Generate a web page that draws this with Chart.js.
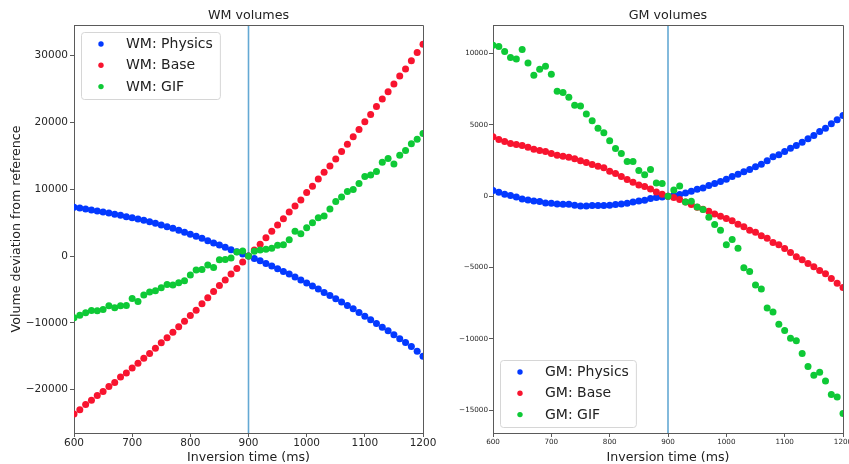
<!DOCTYPE html>
<html>
<head>
<meta charset="utf-8">
<script src="https://cdn.jsdelivr.net/npm/chart.js@4.4.1/dist/chart.umd.min.js"></script>
<style>
  html, body { margin: 0; padding: 0; background: #fff; }
  #wrap { position: relative; width: 849px; height: 464px; overflow: hidden; }
  canvas { position: absolute; top: 0; }
</style>
</head>
<body>
<div id="wrap">
  <canvas id="wmChart" width="440" height="464" style="left:0px"></canvas>
  <canvas id="gmChart" width="409" height="464" style="left:440px"></canvas>
</div>
<script>
// inversion times (ms), one point every 10 ms
const inversionTimes = [600, 610, 620, 630, 640, 650, 660, 670, 680, 690,
  700, 710, 720, 730, 740, 750, 760, 770, 780, 790,
  800, 810, 820, 830, 840, 850, 860, 870, 880, 890,
  900, 910, 920, 930, 940, 950, 960, 970, 980, 990,
  1000, 1010, 1020, 1030, 1040, 1050, 1060, 1070, 1080, 1090,
  1100, 1110, 1120, 1130, 1140, 1150, 1160, 1170, 1180, 1190, 1200];
const referenceTime = 900;

// WM volume deviation from reference
const wmPhysics = [7300, 7200, 7050, 6900, 6750, 6600, 6450, 6250, 6100, 5900,
  5750, 5550, 5350, 5150, 4900, 4650, 4400, 4150, 3850, 3550,
  3250, 2950, 2650, 2300, 1950, 1650, 1300, 950, 650, 300,
  0, -350, -700, -1100, -1500, -1900, -2300, -2700, -3150, -3600,
  -4050, -4500, -4950, -5450, -5900, -6400, -6900, -7400, -7900, -8450,
  -9000, -9550, -10100, -10650, -11200, -11800, -12400, -12950, -13550, -14250, -15000];
const wmBase = [-23650, -23000, -22250, -21600, -20900, -20300, -19550, -18950, -18100, -17500,
  -16750, -16050, -15300, -14600, -13800, -13000, -12250, -11400, -10600, -9750,
  -8900, -8100, -7150, -6250, -5300, -4400, -3600, -2700, -1850, -900,
  0, 900, 1750, 2750, 3700, 4650, 5600, 6600, 7500, 8400,
  9500, 10450, 11550, 12550, 13500, 14550, 15650, 16750, 17850, 18950,
  20100, 21200, 22400, 23500, 24600, 25750, 26950, 28000, 29250, 30500, 31700];
const wmGif = [-9250, -8850, -8500, -8150, -8200, -8000, -7450, -7750, -7450, -7400,
  -6350, -6800, -5850, -5400, -5200, -4750, -4250, -4350, -4000, -3700,
  -2850, -2100, -2000, -1350, -1700, -550, -500, -300, 600, 750,
  0, 700, 900, 1000, 1150, 1600, 1700, 2450, 3700, 3350,
  4250, 5000, 5750, 6000, 7050, 8150, 8850, 9650, 9950, 10850,
  11900, 12150, 12650, 14050, 14600, 13800, 15100, 15800, 16800, 17500, 18350];

// GM volume deviation from reference
const gmPhysics = [400, 280, 140, 50, -50, -190, -260, -330, -370, -470,
  -490, -540, -560, -560, -630, -680, -680, -650, -650, -650,
  -630, -580, -540, -490, -400, -330, -280, -160, -90, -50,
  0, 70, 120, 230, 350, 490, 580, 750, 890, 1030,
  1190, 1380, 1540, 1710, 1870, 2060, 2240, 2480, 2760, 2900,
  3130, 3360, 3550, 3780, 4020, 4250, 4530, 4770, 5070, 5350, 5650];
const gmBase = [4160, 3970, 3830, 3690, 3620, 3550, 3430, 3290, 3200, 3130,
  2990, 2870, 2800, 2730, 2620, 2480, 2360, 2220, 2100, 1990,
  1750, 1590, 1380, 1170, 980, 790, 680, 510, 300, 140,
  0, -90, -230, -400, -580, -770, -910, -1050, -1240, -1400,
  -1570, -1730, -1960, -2150, -2380, -2520, -2780, -2940, -3250, -3410,
  -3670, -3950, -4250, -4460, -4720, -4950, -5210, -5440, -5770, -6100, -6400];
const gmGif = [10580, 10490, 10140, 9720, 9620, 10280, 9340, 8480, 8900, 9110,
  8550, 7360, 7260, 6940, 6380, 6330, 5770, 5280, 4770, 4440,
  3880, 3340, 2990, 2430, 2430, 1800, 1500, 1870, 930, 890,
  0, 440, 720, -400, -350, -750, -930, -1470, -1990, -2380,
  -3410, -3040, -3650, -5020, -5280, -6220, -6500, -7830, -8110, -8970,
  -9420, -9950, -10140, -11030, -11940, -12550, -12340, -12950, -13900, -14070, -15230];

// tick labels
const timeTicks = [600, 700, 800, 900, 1000, 1100, 1200];
const wmTicks = [-20000, -10000, 0, 10000, 20000, 30000];
const gmTicks = [-15000, -10000, -5000, 0, 5000, 10000];

const FONT = '"DejaVu Sans", "Liberation Sans", sans-serif';
const COLORS = { physics: '#0339ff', base: '#f8142f', gif: '#0ec936' };
Chart.defaults.font.family = FONT;

const fmt = v => (v < 0 ? '\u2212' + Math.abs(v) : String(v));
const pts = ys => inversionTimes.map((t, i) => ({ x: t, y: ys[i] }));

// vertical reference line + top/right spines + panel title
const panelDecor = {
  id: 'panelDecor',
  beforeDatasetsDraw(chart) {
    const { ctx, chartArea: a, scales: { x } } = chart;
    const px = x.getPixelForValue(referenceTime);
    ctx.save();
    ctx.strokeStyle = '#64a9d4';
    ctx.lineWidth = 1.6;
    ctx.beginPath();
    ctx.moveTo(px, a.top);
    ctx.lineTo(px, a.bottom);
    ctx.stroke();
    ctx.restore();
  },
  afterDraw(chart, args, opts) {
    const { ctx, chartArea: a } = chart;
    ctx.save();
    ctx.strokeStyle = '#5a5a5a';
    ctx.lineWidth = 1;
    ctx.beginPath();
    ctx.moveTo(Math.round(a.left) + 0.5, Math.round(a.top) + 0.5);
    ctx.lineTo(Math.round(a.right) + 0.5, Math.round(a.top) + 0.5);
    ctx.lineTo(Math.round(a.right) + 0.5, Math.round(a.bottom) + 0.5);
    ctx.stroke();
    ctx.fillStyle = '#222';
    ctx.font = '12.7px ' + FONT;
    ctx.textAlign = 'center';
    ctx.textBaseline = 'middle';
    ctx.fillText(opts.title, (a.left + a.right) / 2, 16);
    ctx.restore();
  }
};

// legend drawn inside the axes like matplotlib
const insideLegend = {
  id: 'insideLegend',
  afterDraw(chart, args, opts) {
    const { ctx, chartArea: a } = chart;
    const sets = chart.data.datasets;
    ctx.save();
    ctx.font = '14px ' + FONT;
    const textW = Math.max(...sets.map(d => ctx.measureText(d.label).width));
    const w = 45 + textW + 7, h = 67;
    const x = a.left + 7;
    const y = opts.place === 'top' ? a.top + 7 : a.bottom - 6 - h;
    ctx.beginPath();
    ctx.roundRect(x + 0.5, y + 0.5, w, h, 3);
    ctx.fillStyle = 'rgba(255,255,255,0.8)';
    ctx.fill();
    ctx.strokeStyle = '#d6d6d6';
    ctx.lineWidth = 1;
    ctx.stroke();
    sets.forEach((d, i) => {
      const cy = y + 12 + i * 21.3;
      ctx.fillStyle = d.backgroundColor;
      ctx.beginPath();
      ctx.arc(x + 20, cy, 2.7, 0, Math.PI * 2);
      ctx.fill();
      ctx.fillStyle = '#222';
      ctx.textAlign = 'left';
      ctx.textBaseline = 'middle';
      ctx.fillText(d.label, x + 45, cy + 0.5);
    });
    ctx.restore();
  }
};

function makeConfig(p) {
  const ds = (label, ys, color, order) => ({
    label, data: pts(ys), backgroundColor: color, borderWidth: 0,
    pointRadius: 3.5, pointHoverRadius: 3.5, order
  });
  return {
    type: 'scatter',
    data: {
      datasets: [
        ds(p.prefix + ': Physics', p.physics, COLORS.physics, 3),
        ds(p.prefix + ': Base', p.base, COLORS.base, 2),
        ds(p.prefix + ': GIF', p.gif, COLORS.gif, 1)
      ]
    },
    options: {
      responsive: false,
      devicePixelRatio: 1,
      animation: false,
      events: [],
      layout: { autoPadding: false, padding: { left: 0, right: p.padRight, top: 25, bottom: 0 } },
      plugins: {
        legend: { display: false },
        tooltip: { enabled: false },
        panelDecor: { title: p.title },
        insideLegend: { place: p.legendPlace }
      },
      scales: {
        x: {
          type: 'linear', min: 600, max: 1200,
          afterBuildTicks: s => { s.ticks = timeTicks.map(v => ({ value: v })); },
          afterFit: s => { s.height = 31; s.paddingLeft = 0; s.paddingRight = 0; },
          ticks: { font: { size: p.tickSize }, color: '#262626', padding: p.xTickPad, maxRotation: 0, autoSkip: false, callback: fmt },
          grid: { drawOnChartArea: false, drawTicks: true, tickLength: 4, color: '#5a5a5a' },
          border: { display: true, color: '#5a5a5a', width: 1 },
          title: { display: true, text: 'Inversion time (ms)', font: { size: 12.6 }, color: '#222', padding: { top: 0, bottom: -1.3 } }
        },
        y: {
          type: 'linear', min: p.yMin, max: p.yMax,
          afterBuildTicks: s => { s.ticks = p.yTicks.map(v => ({ value: v })); },
          afterFit: s => { s.width = p.yWidth; s.paddingTop = 0; s.paddingBottom = 0; },
          ticks: { font: { size: p.tickSize }, color: '#262626', padding: p.yTickPad, autoSkip: false, callback: fmt },
          grid: { drawOnChartArea: false, drawTicks: true, tickLength: 4, color: '#5a5a5a' },
          border: { display: true, color: '#5a5a5a', width: 1 },
          title: { display: !!p.yTitle, text: p.yTitle || '', font: { size: 12.6 }, color: '#222', padding: { top: 9.4, bottom: 0 } }
        }
      }
    },
    plugins: [panelDecor, insideLegend]
  };
}

new Chart(document.getElementById('wmChart'), makeConfig({
  prefix: 'WM', title: 'WM volumes', physics: wmPhysics, base: wmBase, gif: wmGif,
  yMin: -26500, yMax: 34600, yTicks: wmTicks, yWidth: 74, padRight: 17,
  tickSize: 10.5, xTickPad: 0, yTickPad: 2, legendPlace: 'top',
  yTitle: 'Volume deviation from reference'
}));

new Chart(document.getElementById('gmChart'), makeConfig({
  prefix: 'GM', title: 'GM volumes', physics: gmPhysics, base: gmBase, gif: gmGif,
  yMin: -16600, yMax: 12000, yTicks: gmTicks, yWidth: 53, padRight: 6,
  tickSize: 7.2, xTickPad: 1, yTickPad: 1, legendPlace: 'bottom'
}));
</script>
</body>
</html>
